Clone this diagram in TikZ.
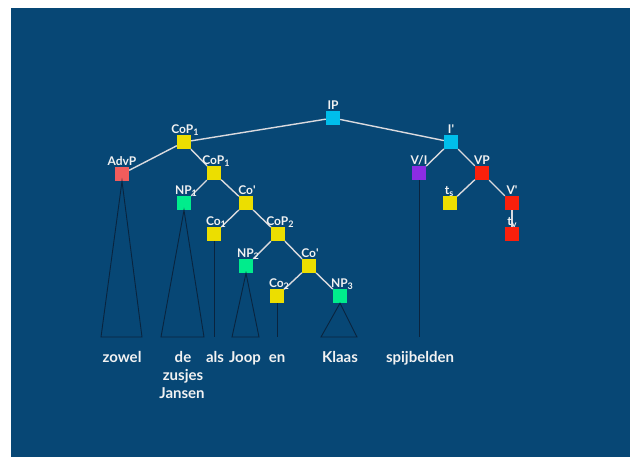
\documentclass[tikz,border=0pt]{standalone}
\usepackage{fontspec}
\setmainfont{Lato}
\begin{document}
\definecolor{bgblue}{RGB}{7,71,117}
\definecolor{ybox}{RGB}{236,222,0}
\definecolor{cbox}{RGB}{0,190,235}
\definecolor{sbox}{RGB}{242,92,92}
\definecolor{gbox}{RGB}{0,236,140}
\definecolor{pbox}{RGB}{140,44,228}
\definecolor{rbox}{RGB}{250,32,12}
\definecolor{edgecol}{RGB}{218,218,222}
\definecolor{tricol}{RGB}{10,36,62}
\definecolor{txtcol}{RGB}{242,242,242}
\newcommand\lsub[1]{\raisebox{-0.45ex}{\fontsize{9}{10}\selectfont #1}}
\newcommand\pr{\textquotesingle}
\begin{tikzpicture}[x=1pt,y=-1pt,
  box/.style={rectangle,draw=none,fill=#1,minimum size=14pt,inner sep=0pt},
  lab/.style={anchor=base,inner sep=0pt,text=txtcol,font=\fontsize{12}{14}\selectfont\bfseries},
  word/.style={anchor=base,inner sep=0pt,text=txtcol,font=\fontsize{15}{18}\selectfont\bfseries},
  edge/.style={draw=edgecol,line width=1.4pt},
  tri/.style={draw=tricol,line width=0.9pt,line join=miter}]
\useasboundingbox (0,0) rectangle (632,459);
\fill[white] (0,0) rectangle (632,459);
\fill[bgblue] (11,8) rectangle (630,457);

% category boxes
\node[box=cbox] (ip)    at (333,118) {};
\node[box=ybox] (copa)  at (184,142) {};
\node[box=sbox] (advp)  at (122,174) {};
\node[box=ybox] (copb)  at (214,173) {};
\node[box=gbox] (npa)   at (184,203) {};
\node[box=ybox] (cobara) at (246,203) {};
\node[box=ybox] (coa)   at (214,234) {};
\node[box=ybox] (copc)  at (278,234) {};
\node[box=gbox] (npb)   at (246,266) {};
\node[box=ybox] (cobarb) at (309,266) {};
\node[box=ybox] (cob)   at (277,296) {};
\node[box=gbox] (npc)   at (340,296) {};
\node[box=cbox] (ibar)  at (451,142) {};
\node[box=pbox] (vi)    at (419,173) {};
\node[box=rbox] (vp)    at (482,173) {};
\node[box=ybox] (ts)    at (450,203) {};
\node[box=rbox] (vbar)  at (512,203) {};
\node[box=rbox] (tv)    at (512,234) {};

% branches
\draw[edge] (ip) -- (copa);
\draw[edge] (ip) -- (ibar);
\draw[edge] (copa) -- (advp);
\draw[edge] (copa) -- (copb);
\draw[edge] (copb) -- (npa);
\draw[edge] (copb) -- (cobara);
\draw[edge] (cobara) -- (coa);
\draw[edge] (cobara) -- (copc);
\draw[edge] (copc) -- (npb);
\draw[edge] (copc) -- (cobarb);
\draw[edge] (cobarb) -- (cob);
\draw[edge] (cobarb) -- (npc);
\draw[edge] (ibar) -- (vi);
\draw[edge] (ibar) -- (vp);
\draw[edge] (vp) -- (ts);
\draw[edge] (vp) -- (vbar);
\draw[edge] (vbar) -- (tv);

% node labels
\node[lab] (l-ip)    at (333,109) {IP};
\node[lab] (l-copa)  at (185,133) {CoP\lsub{1}};
\node[lab] (l-advp)  at (122,165) {AdvP};
\node[lab] (l-copb)  at (216,164) {CoP\lsub{1}};
\node[lab] (l-npa)   at (186,194) {NP\lsub{1}};
\node[lab] (l-cobara) at (247,194) {Co\pr};
\node[lab] (l-coa)   at (216,225) {Co\lsub{1}};
\node[lab] (l-copc)  at (280,225) {CoP\lsub{2}};
\node[lab] (l-npb)   at (248,257) {NP\lsub{2}};
\node[lab] (l-cobarb) at (310,257) {Co\pr};
\node[lab] (l-cob)   at (279,287) {Co\lsub{2}};
\node[lab] (l-npc)   at (342,287) {NP\lsub{3}};
\node[lab] (l-ibar)  at (451,133) {I\pr};
\node[lab] (l-vi)    at (419,164) {V/I};
\node[lab] (l-vp)    at (482,164) {VP};
\node[lab] (l-ts)    at (449,194) {t\lsub{s}};
\node[lab] (l-vbar)  at (512,194) {V\pr};
\node[lab] (l-tv)    at (512,225) {t\lsub{v}};

% triangle bases and stems
\coordinate (advp-l) at (101,337);
\coordinate (advp-r) at (142,337);
\coordinate (npa-l) at (161,337);
\coordinate (npa-r) at (204,337);
\coordinate (npb-l) at (232,337);
\coordinate (npb-r) at (259,337);
\coordinate (npc-l) at (321,337);
\coordinate (npc-r) at (357,337);
\coordinate (coa-e) at (214,337);
\coordinate (cob-e) at (277,337);
\coordinate (vi-e)  at (419,337);
\draw[tri] (advp.south) -- (advp-l) -- (advp-r) -- cycle;
\draw[tri] (npa.south) -- (npa-l) -- (npa-r) -- cycle;
\draw[tri] (npb.south) -- (npb-l) -- (npb-r) -- cycle;
\draw[tri] (npc.south) -- (npc-l) -- (npc-r) -- cycle;
\draw[tri] (coa.south) -- (coa-e);
\draw[tri] (cob.south) -- (cob-e);
\draw[tri] (vi.south) -- (vi-e);

% terminal words
\node[word] (w-zowel)  at (122,362) {zowel};
\node[word] (w-de)     at (183,362) {de};
\node[word] (w-zusjes) at (183,380) {zusjes};
\node[word] (w-jansen) at (182,398) {Jansen};
\node[word] (w-als)    at (215,362) {als};
\node[word] (w-joop)   at (245,362) {Joop};
\node[word] (w-en)     at (277,362) {en};
\node[word] (w-klaas)  at (340,362) {Klaas};
\node[word] (w-spijb)  at (420,362) {spijbelden};
\end{tikzpicture}
\end{document}
